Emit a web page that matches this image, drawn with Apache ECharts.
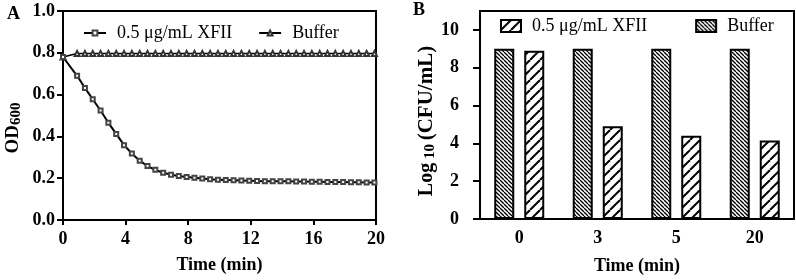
<!DOCTYPE html>
<html>
<head>
<meta charset="utf-8">
<script src="https://cdn.jsdelivr.net/npm/echarts@6/dist/echarts.min.js"></script>
<style>html,body{margin:0;padding:0;background:#fff;}#c{width:796px;height:280px;}</style>
</head>
<body>
<div id="c"></div>
<script>
// ---------- DATA ----------
const timeA = [0, 0.9, 1.4, 1.9, 2.4, 2.9, 3.4, 3.9, 4.4, 4.9, 5.4, 5.9, 6.4, 6.9, 7.4, 7.9, 8.4, 8.9, 9.4, 9.9,
  10.4, 10.9, 11.4, 11.9, 12.4, 12.9, 13.4, 13.9, 14.4, 14.9, 15.4, 15.9, 16.4, 16.9, 17.4, 17.9, 18.4, 18.9, 19.4, 19.9];
const odXFII = [0.780, 0.690, 0.632, 0.578, 0.524, 0.465, 0.412, 0.358, 0.318, 0.284, 0.258, 0.240, 0.226, 0.217, 0.211, 0.206, 0.202, 0.198, 0.195, 0.193,
  0.191, 0.190, 0.189, 0.188, 0.187, 0.186, 0.186, 0.185, 0.185, 0.184, 0.184, 0.183, 0.183, 0.182, 0.182, 0.182, 0.181, 0.181, 0.180, 0.180];
const odBuffer = [0.780, 0.797, 0.797, 0.797, 0.797, 0.797, 0.797, 0.797, 0.797, 0.797, 0.797, 0.797, 0.797, 0.797, 0.797, 0.797, 0.797, 0.797, 0.797, 0.797,
  0.797, 0.797, 0.797, 0.797, 0.797, 0.797, 0.797, 0.797, 0.797, 0.797, 0.797, 0.797, 0.797, 0.797, 0.797, 0.797, 0.797, 0.797, 0.797, 0.797];
const xTicksA = [0, 4, 8, 12, 16, 20];
const yTicksA = [0, 0.2, 0.4, 0.6, 0.8, 1.0];

const catsB = ['0', '3', '5', '20'];
const cfuBuffer = [9.0, 9.0, 9.0, 9.0];
const cfuXFII = [8.9, 4.9, 4.4, 4.15];
const yTicksB = [0, 2, 4, 6, 8, 10];

const nameXFII = '0.5 μg/mL XFII';
const nameBuffer = 'Buffer';
const barKeyXFII = 'bar:' + nameXFII;
const barKeyBuffer = 'bar:' + nameBuffer;

// ---------- STYLE HELPERS ----------
const FONT = '"Liberation Serif", "Times New Roman", serif';
function hatch(size, dir, lw) {
  const c = document.createElement('canvas');
  c.width = size; c.height = size;
  const ctx = c.getContext('2d');
  ctx.fillStyle = '#fff';
  ctx.fillRect(0, 0, size, size);
  ctx.strokeStyle = '#000';
  ctx.lineWidth = lw;
  for (const k of [-size, 0, size]) {
    ctx.beginPath();
    if (dir === '/') { ctx.moveTo(k, size); ctx.lineTo(k + size, 0); }
    else { ctx.moveTo(k, 0); ctx.lineTo(k + size, size); }
    ctx.stroke();
  }
  return c;
}
const patBuffer = { image: hatch(4, '\\', 1.3), repeat: 'repeat' };
const patXFII = { image: hatch(10, '/', 2), repeat: 'repeat' };

const axisLbl = { color: '#000', fontFamily: FONT, fontWeight: 'bold', fontSize: 18 };
const axisLineS = { show: true, lineStyle: { color: '#000', width: 2 } };
const legendText = { color: '#000', fontFamily: FONT, fontSize: 18 };

const chart = echarts.init(document.getElementById('c'), null, { renderer: 'canvas' });
chart.setOption({
  animation: false,
  backgroundColor: '#fff',
  grid: [
    { left: 63, top: 11, width: 313, height: 209, show: true, borderColor: '#000', borderWidth: 2, backgroundColor: 'transparent' },
    { left: 480, top: 11, width: 314, height: 210, show: true, borderColor: '#000', borderWidth: 2, backgroundColor: 'transparent' }
  ],
  xAxis: [
    { gridIndex: 0, type: 'value', min: 0, max: 20, interval: 4,
      axisLine: axisLineS, axisTick: { show: true, length: 5, lineStyle: { width: 2, color: '#000' }, customValues: xTicksA },
      axisLabel: Object.assign({ margin: 10, customValues: xTicksA }, axisLbl), splitLine: { show: false },
      name: 'Time (min)', nameLocation: 'middle', nameGap: 36, nameTextStyle: axisLbl },
    { gridIndex: 1, type: 'category', data: catsB,
      axisLine: axisLineS, axisTick: { show: false },
      axisLabel: Object.assign({ margin: 10 }, axisLbl), splitLine: { show: false },
      name: 'Time (min)', nameLocation: 'middle', nameGap: 38, nameTextStyle: axisLbl }
  ],
  yAxis: [
    { gridIndex: 0, type: 'value', min: 0, max: 1, interval: 0.2,
      axisLine: axisLineS, axisTick: { show: true, length: 6, lineStyle: { width: 2, color: '#000' }, customValues: yTicksA },
      axisLabel: Object.assign({ margin: 8, customValues: yTicksA, formatter: v => v.toFixed(1) }, axisLbl), splitLine: { show: false } },
    { gridIndex: 1, type: 'value', min: 0, max: 11,
      axisLine: axisLineS, axisTick: { show: true, length: 7, lineStyle: { width: 2, color: '#000' }, customValues: yTicksB },
      axisLabel: Object.assign({ margin: 21, customValues: yTicksB }, axisLbl), splitLine: { show: false } }
  ],
  legend: [
    { left: 78, top: 19, itemWidth: 22, itemHeight: 6, itemGap: 26, data: [nameXFII, nameBuffer],
      textStyle: Object.assign({ padding: [0, 0, 0, 6] }, legendText), selectedMode: false },
    { left: 495, top: 12, itemWidth: 20, itemHeight: 12, itemGap: 48, icon: 'rect',
      data: [barKeyXFII, barKeyBuffer],
      formatter: n => (n === barKeyXFII ? nameXFII : nameBuffer),
      textStyle: Object.assign({ padding: [0, 0, 0, 6] }, legendText), selectedMode: false }
  ],
  graphic: [
    { type: 'text', left: 7, top: 5, style: { text: 'A', fontFamily: FONT, fontWeight: 'bold', fontSize: 18, fill: '#000' } },
    { type: 'text', left: 413, top: 1, style: { text: 'B', fontFamily: FONT, fontWeight: 'bold', fontSize: 18, fill: '#000' } },
    { type: 'text', x: 13, y: 128, rotation: Math.PI / 2,
      style: { text: '{a|OD}{b|600}', align: 'center', verticalAlign: 'middle',
        rich: { a: { fontFamily: FONT, fontWeight: 'bold', fontSize: 19, fill: '#000', lineHeight: 22 },
                b: { fontFamily: FONT, fontWeight: 'bold', fontSize: 15, fill: '#000', verticalAlign: 'bottom', lineHeight: 16, padding: [8, 0, 0, 0] } } } },
    { type: 'text', x: 427, y: 121, rotation: Math.PI / 2,
      style: { text: '{a|Log}{b| 10 }{c|(CFU/mL)}', align: 'center', verticalAlign: 'middle',
        rich: { a: { fontFamily: FONT, fontWeight: 'bold', fontSize: 20, fill: '#000', lineHeight: 22 },
                b: { fontFamily: FONT, fontWeight: 'bold', fontSize: 15, fill: '#000', verticalAlign: 'bottom', lineHeight: 16, padding: [8, 0, 0, 0] },
                c: { fontFamily: FONT, fontWeight: 'bold', fontSize: 21, fill: '#000', lineHeight: 22 } } } }
  ],
  series: [
    { name: nameBuffer, type: 'line', xAxisIndex: 0, yAxisIndex: 0,
      data: timeA.map((t, i) => [t, odBuffer[i]]),
      symbol: 'emptyTriangle', symbolSize: 5, showAllSymbol: true,
      lineStyle: { color: '#000', width: 1.5 }, itemStyle: { color: '#333', borderWidth: 1 }, z: 2 },
    { name: nameXFII, type: 'line', xAxisIndex: 0, yAxisIndex: 0,
      data: timeA.map((t, i) => [t, odXFII[i]]),
      symbol: 'emptyRect', symbolSize: 4, showAllSymbol: true,
      lineStyle: { color: '#000', width: 2 }, itemStyle: { color: '#444', borderWidth: 1 }, z: 3 },
    { name: barKeyBuffer, type: 'bar', xAxisIndex: 1, yAxisIndex: 1, data: cfuBuffer,
      barWidth: 20, barGap: '50%',
      itemStyle: { color: patBuffer, borderColor: '#000', borderWidth: 2 } },
    { name: barKeyXFII, type: 'bar', xAxisIndex: 1, yAxisIndex: 1, data: cfuXFII,
      barWidth: 20, barGap: '50%',
      itemStyle: { color: patXFII, borderColor: '#000', borderWidth: 2 } }
  ]
});
</script>
</body>
</html>
